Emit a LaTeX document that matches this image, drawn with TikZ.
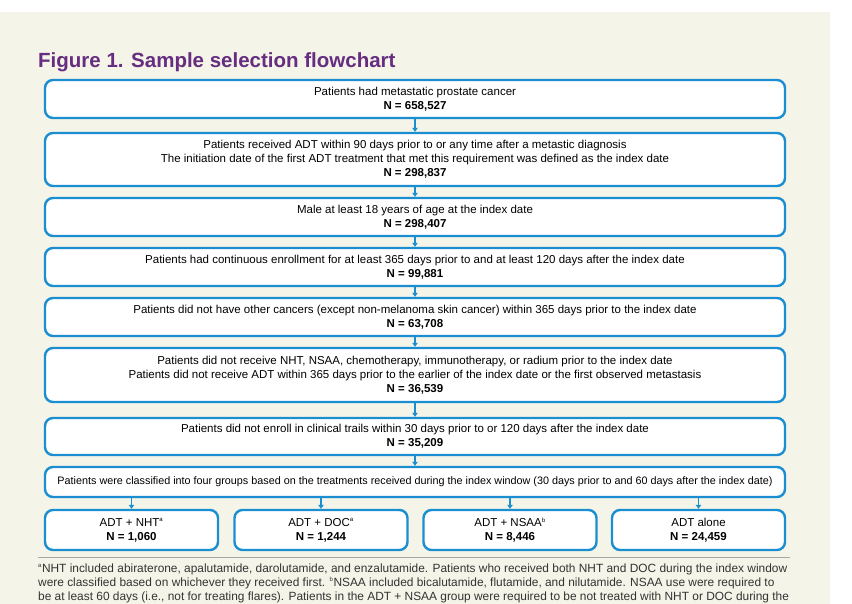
\documentclass[tikz,border=0pt]{standalone}
\usepackage{fontspec}
\setmainfont{Liberation Sans}
\usetikzlibrary{arrows.meta}
\definecolor{bluebox}{HTML}{1A8ED0}
\definecolor{bgbeige}{HTML}{F4F4E8}
\definecolor{titlepurple}{HTML}{662D80}
\definecolor{foottext}{HTML}{333333}
\newcommand{\smallsup}[1]{\textsuperscript{\fontsize{6}{6}\selectfont #1}}
\tikzset{
  box/.style={draw=bluebox, line width=2.4pt, rounded corners=8pt, fill=white,
    align=center, font=\fontsize{11.5}{14}\selectfont, inner sep=0pt, minimum width=740pt},
  smallbox/.style={box, minimum width=173pt, minimum height=40pt, font=\fontsize{11.5}{14}\selectfont},
  flow/.style={draw=bluebox, line width=1.5pt, -{Triangle[width=5.5pt,length=4pt]}},
  foot/.style={anchor=base west, inner sep=0pt, text=foottext, font=\fontsize{11.9}{14}\selectfont}
}
\begin{document}
\begin{tikzpicture}[x=1pt,y=-1pt]
\useasboundingbox (0,0) rectangle (852,604);
\fill[bgbeige] (0,12) rectangle (830,604);
\node[anchor=base west, inner sep=0pt, text=titlepurple, font=\fontsize{20.5}{24}\selectfont\bfseries] (title) at (38,68) {Figure 1. Sample selection flowchart};

\node[box, minimum height=38pt] (b1) at (415,99) {Patients had metastatic prostate cancer\\\textbf{N = 658,527}};
\node[box, minimum height=53pt] (b2) at (415,159.5) {Patients received ADT within 90 days prior to or any time after a metastic diagnosis\\The initiation date of the first ADT treatment that met this requirement was defined as the index date\\\textbf{N = 298,837}};
\node[box, minimum height=38pt] (b3) at (415,217) {Male at least 18 years of age at the index date\\\textbf{N = 298,407}};
\node[box, minimum height=38pt] (b4) at (415,267) {Patients had continuous enrollment for at least 365 days prior to and at least 120 days after the index date\\\textbf{N = 99,881}};
\node[box, minimum height=38pt] (b5) at (415,317) {Patients did not have other cancers (except non-melanoma skin cancer) within 365 days prior to the index date\\\textbf{N = 63,708}};
\node[box, minimum height=54pt] (b6) at (415,375) {Patients did not receive NHT, NSAA, chemotherapy, immunotherapy, or radium prior to the index date\\Patients did not receive ADT within 365 days prior to the earlier of the index date or the first observed metastasis\\\textbf{N = 36,539}};
\node[box, minimum height=37pt] (b7) at (415,436.5) {Patients did not enroll in clinical trails within 30 days prior to or 120 days after the index date\\\textbf{N = 35,209}};
\node[box, minimum height=30pt, font=\fontsize{10.8}{13}\selectfont] (b8) at (415,482) {Patients were classified into four groups based on the treatments received during the index window (30 days prior to and 60 days after the index date)};

\node[smallbox] (g1) at (131.5,530) {ADT + NHT\smallsup{a}\\\textbf{N = 1,060}};
\node[smallbox] (g2) at (321,530) {ADT + DOC\smallsup{a}\\\textbf{N = 1,244}};
\node[smallbox] (g3) at (510,530) {ADT + NSAA\smallsup{b}\\\textbf{N = 8,446}};
\node[smallbox] (g4) at (698.5,530) {ADT alone\\\textbf{N = 24,459}};

\foreach \a/\b in {b1/b2,b2/b3,b3/b4,b4/b5,b5/b6,b6/b7,b7/b8}
  \draw[flow] (\a.south) -- (\b.north);
\foreach \g in {g1,g2,g3,g4}
  \draw[flow] (b8.south -| \g.north) -- (\g.north);

\coordinate (sepl) at (38,557);
\coordinate (sepr) at (790,557);
\draw[draw=black!35, line width=1pt] (sepl) -- (sepr);

\node[foot] (f1) at (38,572) {\smallsup{a}NHT included abiraterone, apalutamide, darolutamide, and enzalutamide. Patients who received both NHT and DOC during the index window};
\node[foot] (f2) at (38,586) {were classified based on whichever they received first. \smallsup{b}NSAA included bicalutamide, flutamide, and nilutamide. NSAA use were required to};
\node[foot] (f3) at (38,600) {be at least 60 days (i.e., not for treating flares). Patients in the ADT + NSAA group were required to be not treated with NHT or DOC during the};
\end{tikzpicture}
\end{document}
